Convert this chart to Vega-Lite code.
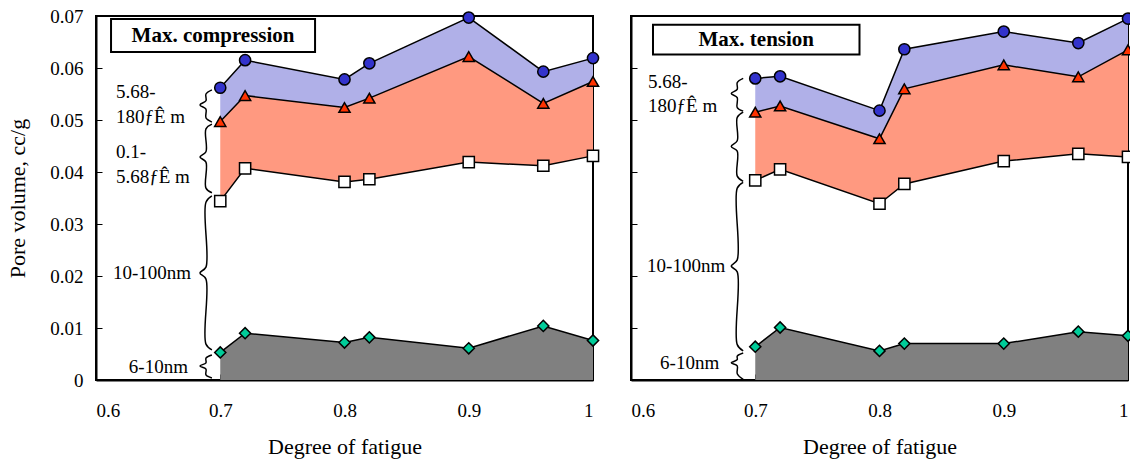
{
  "$schema": "https://vega.github.io/schema/vega-lite/v6.json",
  "background": "white",
  "padding": {"left": 5, "top": 6, "right": 2, "bottom": 2},
  "spacing": 26,
  "config": {
    "view": {"stroke": "black", "strokeWidth": 2},
    "axis": {
      "grid": false,
      "domainColor": "black",
      "domainWidth": 2,
      "tickColor": "black",
      "tickWidth": 1,
      "tickSize": -6,
      "labelFont": "Liberation Serif",
      "labelFontSize": 19,
      "labelColor": "black",
      "titleFont": "Liberation Serif",
      "titleFontSize": 22,
      "titleFontWeight": "normal",
      "titleColor": "black"
    }
  },
  "datasets": {
    "left": [
      {"x": 0.7, "c": 0.0562, "t": 0.0497, "s": 0.0344, "d": 0.0053},
      {"x": 0.72, "c": 0.0615, "t": 0.0547, "s": 0.0407, "d": 0.0090},
      {"x": 0.8, "c": 0.0578, "t": 0.0524, "s": 0.0381, "d": 0.0072},
      {"x": 0.82, "c": 0.0609, "t": 0.0542, "s": 0.0386, "d": 0.0082},
      {"x": 0.9, "c": 0.0697, "t": 0.0622, "s": 0.0419, "d": 0.0061},
      {"x": 0.96, "c": 0.0593, "t": 0.0532, "s": 0.0412, "d": 0.0104},
      {"x": 1.0, "c": 0.0619, "t": 0.0574, "s": 0.0431, "d": 0.0076}
    ],
    "right": [
      {"x": 0.7, "c": 0.0580, "t": 0.0515, "s": 0.0384, "d": 0.0064},
      {"x": 0.72, "c": 0.0584, "t": 0.0527, "s": 0.0405, "d": 0.0101},
      {"x": 0.8, "c": 0.0518, "t": 0.0464, "s": 0.0339, "d": 0.0056},
      {"x": 0.82, "c": 0.0636, "t": 0.0560, "s": 0.0377, "d": 0.0070},
      {"x": 0.9, "c": 0.0670, "t": 0.0606, "s": 0.0421, "d": 0.0070},
      {"x": 0.96, "c": 0.0648, "t": 0.0583, "s": 0.0435, "d": 0.0093},
      {"x": 1.0, "c": 0.0695, "t": 0.0635, "s": 0.0429, "d": 0.0085}
    ],
    "leftBraces": [
      {"b": 1, "i": 1, "x": 0.6933, "y": 0.0558}, {"b": 1, "i": 2, "x": 0.6885, "y": 0.0550}, {"b": 1, "i": 3, "x": 0.6885, "y": 0.0537}, {"b": 1, "i": 4, "x": 0.6837, "y": 0.0529}, {"b": 1, "i": 5, "x": 0.6885, "y": 0.0521}, {"b": 1, "i": 6, "x": 0.6885, "y": 0.0504}, {"b": 1, "i": 7, "x": 0.6933, "y": 0.0496},
      {"b": 2, "i": 1, "x": 0.6933, "y": 0.0492}, {"b": 2, "i": 2, "x": 0.6885, "y": 0.0483}, {"b": 2, "i": 3, "x": 0.6885, "y": 0.0439}, {"b": 2, "i": 4, "x": 0.6837, "y": 0.0429}, {"b": 2, "i": 5, "x": 0.6885, "y": 0.0419}, {"b": 2, "i": 6, "x": 0.6885, "y": 0.0369}, {"b": 2, "i": 7, "x": 0.6933, "y": 0.0360},
      {"b": 3, "i": 1, "x": 0.6933, "y": 0.0354}, {"b": 3, "i": 2, "x": 0.6885, "y": 0.0342}, {"b": 3, "i": 3, "x": 0.6885, "y": 0.0217}, {"b": 3, "i": 4, "x": 0.6837, "y": 0.0206}, {"b": 3, "i": 5, "x": 0.6885, "y": 0.0194}, {"b": 3, "i": 6, "x": 0.6885, "y": 0.0069}, {"b": 3, "i": 7, "x": 0.6933, "y": 0.0058},
      {"b": 4, "i": 1, "x": 0.6933, "y": 0.0048}, {"b": 4, "i": 2, "x": 0.6885, "y": 0.0042}, {"b": 4, "i": 3, "x": 0.6885, "y": 0.0033}, {"b": 4, "i": 4, "x": 0.6837, "y": 0.0027}, {"b": 4, "i": 5, "x": 0.6885, "y": 0.0021}, {"b": 4, "i": 6, "x": 0.6885, "y": 0.0010}, {"b": 4, "i": 7, "x": 0.6933, "y": 0.0004}
    ],
    "rightBraces": [
      {"b": 1, "i": 1, "x": 0.6903, "y": 0.0580}, {"b": 1, "i": 2, "x": 0.6855, "y": 0.0572}, {"b": 1, "i": 3, "x": 0.6855, "y": 0.0559}, {"b": 1, "i": 4, "x": 0.6807, "y": 0.0551}, {"b": 1, "i": 5, "x": 0.6855, "y": 0.0543}, {"b": 1, "i": 6, "x": 0.6855, "y": 0.0524}, {"b": 1, "i": 7, "x": 0.6903, "y": 0.0517},
      {"b": 2, "i": 1, "x": 0.6903, "y": 0.0515}, {"b": 2, "i": 2, "x": 0.6855, "y": 0.0505}, {"b": 2, "i": 3, "x": 0.6855, "y": 0.0460}, {"b": 2, "i": 4, "x": 0.6807, "y": 0.0449}, {"b": 2, "i": 5, "x": 0.6855, "y": 0.0440}, {"b": 2, "i": 6, "x": 0.6855, "y": 0.0392}, {"b": 2, "i": 7, "x": 0.6903, "y": 0.0382},
      {"b": 3, "i": 1, "x": 0.6903, "y": 0.0380}, {"b": 3, "i": 2, "x": 0.6855, "y": 0.0369}, {"b": 3, "i": 3, "x": 0.6855, "y": 0.0231}, {"b": 3, "i": 4, "x": 0.6807, "y": 0.0219}, {"b": 3, "i": 5, "x": 0.6855, "y": 0.0208}, {"b": 3, "i": 6, "x": 0.6855, "y": 0.0068}, {"b": 3, "i": 7, "x": 0.6903, "y": 0.0056},
      {"b": 4, "i": 1, "x": 0.6903, "y": 0.0052}, {"b": 4, "i": 2, "x": 0.6855, "y": 0.0046}, {"b": 4, "i": 3, "x": 0.6855, "y": 0.0039}, {"b": 4, "i": 4, "x": 0.6807, "y": 0.0033}, {"b": 4, "i": 5, "x": 0.6855, "y": 0.0027}, {"b": 4, "i": 6, "x": 0.6855, "y": 0.0012}, {"b": 4, "i": 7, "x": 0.6903, "y": 0.0001}
    ],
    "leftLabels": [
      {"side": "L", "text": "5.68-", "x": 0.6161, "y": 0.0554},
      {"side": "L", "text": "180ƒÊ m", "x": 0.6161, "y": 0.0506},
      {"side": "L", "text": "0.1-", "x": 0.6161, "y": 0.0438},
      {"side": "L", "text": "5.68ƒÊ m", "x": 0.6161, "y": 0.0390},
      {"side": "R", "text": "10-100nm", "x": 0.6765, "y": 0.0206},
      {"side": "R", "text": "6-10nm", "x": 0.6740, "y": 0.0025}
    ],
    "rightLabels": [
      {"side": "L", "text": "5.68-", "x": 0.6137, "y": 0.0574},
      {"side": "L", "text": "180ƒÊ m", "x": 0.6137, "y": 0.0526},
      {"side": "R", "text": "10-100nm", "x": 0.6758, "y": 0.0219},
      {"side": "R", "text": "6-10nm", "x": 0.6710, "y": 0.0033}
    ],
    "leftBox": [{"label": "Max. compression", "x1": 0.6121, "x2": 0.7763, "y1": 0.0694, "y2": 0.0631, "xm": 0.6942, "ym": 0.06625}],
    "rightBox": [{"label": "Max. tension", "x1": 0.6177, "x2": 0.7839, "y1": 0.0683, "y2": 0.0626, "xm": 0.7008, "ym": 0.06545}]
  },
  "hconcat": [
    {
      "width": 497,
      "height": 364,
      "layer": [
        {
          "data": {"name": "left"},
          "mark": {"type": "area", "color": "#808080"},
          "encoding": {
            "x": {"field": "x", "type": "quantitative", "scale": {"domain": [0.6, 1], "nice": false, "zero": false},
              "axis": {"title": "Degree of fatigue", "values": [0.6, 0.7, 0.8, 0.9, 1], "format": "~g", "labelPadding": 27, "titlePadding": 16}},
            "y": {"field": "d", "type": "quantitative", "scale": {"domain": [0, 0.07], "nice": false},
              "axis": {"title": "Pore volume, cc/g", "values": [0, 0.01, 0.02, 0.03, 0.04, 0.05, 0.06, 0.07], "format": "~g", "labelPadding": 19, "titlePadding": 20}},
            "y2": {"datum": 0}
          }
        },
        {
          "data": {"name": "left"},
          "mark": {"type": "area", "color": "#B0B0E8"},
          "encoding": {"x": {"field": "x", "type": "quantitative"}, "y": {"field": "c", "type": "quantitative"}, "y2": {"field": "t"}}
        },
        {
          "data": {"name": "left"},
          "mark": {"type": "area", "color": "#FF9980"},
          "encoding": {"x": {"field": "x", "type": "quantitative"}, "y": {"field": "t", "type": "quantitative"}, "y2": {"field": "s"}}
        },
        {
          "data": {"name": "left"},
          "transform": [{"fold": ["c", "t", "s", "d"], "as": ["series", "v"]}],
          "mark": {"type": "line", "color": "black", "strokeWidth": 1.5},
          "encoding": {"x": {"field": "x", "type": "quantitative"}, "y": {"field": "v", "type": "quantitative"}, "detail": {"field": "series"}}
        },
        {
          "data": {"name": "left"},
          "transform": [{"fold": ["c", "t", "s", "d"], "as": ["series", "v"]}],
          "mark": {"type": "point", "filled": true, "stroke": "black", "strokeWidth": 1.5, "opacity": 1, "size": 125},
          "encoding": {
            "x": {"field": "x", "type": "quantitative"},
            "y": {"field": "v", "type": "quantitative"},
            "shape": {"field": "series", "scale": {"domain": ["c", "t", "s", "d"], "range": ["circle", "triangle-up", "square", "diamond"]}, "legend": null},
            "fill": {"field": "series", "scale": {"domain": ["c", "t", "s", "d"], "range": ["#3333CC", "#FF3300", "#FFFFFF", "#00CC99"]}, "legend": null}
          }
        },
        {
          "data": {"name": "leftBraces"},
          "mark": {"type": "line", "color": "black", "strokeWidth": 1.5, "interpolate": "catmull-rom"},
          "encoding": {"x": {"field": "x", "type": "quantitative"}, "y": {"field": "y", "type": "quantitative"}, "detail": {"field": "b"}, "order": {"field": "i"}}
        },
        {
          "data": {"name": "leftLabels"},
          "transform": [{"filter": "datum.side == 'L'"}],
          "mark": {"type": "text", "align": "left", "baseline": "middle", "font": "Liberation Serif", "fontSize": 19, "color": "black"},
          "encoding": {"x": {"field": "x", "type": "quantitative"}, "y": {"field": "y", "type": "quantitative"}, "text": {"field": "text"}}
        },
        {
          "data": {"name": "leftLabels"},
          "transform": [{"filter": "datum.side == 'R'"}],
          "mark": {"type": "text", "align": "right", "baseline": "middle", "font": "Liberation Serif", "fontSize": 19, "color": "black"},
          "encoding": {"x": {"field": "x", "type": "quantitative"}, "y": {"field": "y", "type": "quantitative"}, "text": {"field": "text"}}
        },
        {
          "data": {"name": "leftBox"},
          "mark": {"type": "rect", "fill": "white", "stroke": "black", "strokeWidth": 2},
          "encoding": {"x": {"field": "x1", "type": "quantitative"}, "x2": {"field": "x2"}, "y": {"field": "y1", "type": "quantitative"}, "y2": {"field": "y2"}}
        },
        {
          "data": {"name": "leftBox"},
          "mark": {"type": "text", "align": "center", "baseline": "middle", "font": "Liberation Serif", "fontSize": 21, "fontWeight": "bold", "color": "black"},
          "encoding": {"x": {"field": "xm", "type": "quantitative"}, "y": {"field": "ym", "type": "quantitative"}, "text": {"field": "label"}}
        }
      ]
    },
    {
      "width": 497,
      "height": 364,
      "layer": [
        {
          "data": {"name": "right"},
          "mark": {"type": "area", "color": "#808080"},
          "encoding": {
            "x": {"field": "x", "type": "quantitative", "scale": {"domain": [0.6, 1], "nice": false, "zero": false},
              "axis": {"title": "Degree of fatigue", "values": [0.6, 0.7, 0.8, 0.9, 1], "format": "~g", "labelPadding": 27, "titlePadding": 16}},
            "y": {"field": "d", "type": "quantitative", "scale": {"domain": [0, 0.07], "nice": false},
              "axis": {"title": null, "labels": false, "values": [0, 0.01, 0.02, 0.03, 0.04, 0.05, 0.06, 0.07]}},
            "y2": {"datum": 0}
          }
        },
        {
          "data": {"name": "right"},
          "mark": {"type": "area", "color": "#B0B0E8"},
          "encoding": {"x": {"field": "x", "type": "quantitative"}, "y": {"field": "c", "type": "quantitative"}, "y2": {"field": "t"}}
        },
        {
          "data": {"name": "right"},
          "mark": {"type": "area", "color": "#FF9980"},
          "encoding": {"x": {"field": "x", "type": "quantitative"}, "y": {"field": "t", "type": "quantitative"}, "y2": {"field": "s"}}
        },
        {
          "data": {"name": "right"},
          "transform": [{"fold": ["c", "t", "s", "d"], "as": ["series", "v"]}],
          "mark": {"type": "line", "color": "black", "strokeWidth": 1.5},
          "encoding": {"x": {"field": "x", "type": "quantitative"}, "y": {"field": "v", "type": "quantitative"}, "detail": {"field": "series"}}
        },
        {
          "data": {"name": "right"},
          "transform": [{"fold": ["c", "t", "s", "d"], "as": ["series", "v"]}],
          "mark": {"type": "point", "filled": true, "stroke": "black", "strokeWidth": 1.5, "opacity": 1, "size": 125},
          "encoding": {
            "x": {"field": "x", "type": "quantitative"},
            "y": {"field": "v", "type": "quantitative"},
            "shape": {"field": "series", "scale": {"domain": ["c", "t", "s", "d"], "range": ["circle", "triangle-up", "square", "diamond"]}, "legend": null},
            "fill": {"field": "series", "scale": {"domain": ["c", "t", "s", "d"], "range": ["#3333CC", "#FF3300", "#FFFFFF", "#00CC99"]}, "legend": null}
          }
        },
        {
          "data": {"name": "rightBraces"},
          "mark": {"type": "line", "color": "black", "strokeWidth": 1.5, "interpolate": "catmull-rom"},
          "encoding": {"x": {"field": "x", "type": "quantitative"}, "y": {"field": "y", "type": "quantitative"}, "detail": {"field": "b"}, "order": {"field": "i"}}
        },
        {
          "data": {"name": "rightLabels"},
          "transform": [{"filter": "datum.side == 'L'"}],
          "mark": {"type": "text", "align": "left", "baseline": "middle", "font": "Liberation Serif", "fontSize": 19, "color": "black"},
          "encoding": {"x": {"field": "x", "type": "quantitative"}, "y": {"field": "y", "type": "quantitative"}, "text": {"field": "text"}}
        },
        {
          "data": {"name": "rightLabels"},
          "transform": [{"filter": "datum.side == 'R'"}],
          "mark": {"type": "text", "align": "right", "baseline": "middle", "font": "Liberation Serif", "fontSize": 19, "color": "black"},
          "encoding": {"x": {"field": "x", "type": "quantitative"}, "y": {"field": "y", "type": "quantitative"}, "text": {"field": "text"}}
        },
        {
          "data": {"name": "rightBox"},
          "mark": {"type": "rect", "fill": "white", "stroke": "black", "strokeWidth": 2},
          "encoding": {"x": {"field": "x1", "type": "quantitative"}, "x2": {"field": "x2"}, "y": {"field": "y1", "type": "quantitative"}, "y2": {"field": "y2"}}
        },
        {
          "data": {"name": "rightBox"},
          "mark": {"type": "text", "align": "center", "baseline": "middle", "font": "Liberation Serif", "fontSize": 21, "fontWeight": "bold", "color": "black"},
          "encoding": {"x": {"field": "xm", "type": "quantitative"}, "y": {"field": "ym", "type": "quantitative"}, "text": {"field": "label"}}
        }
      ]
    }
  ]
}
